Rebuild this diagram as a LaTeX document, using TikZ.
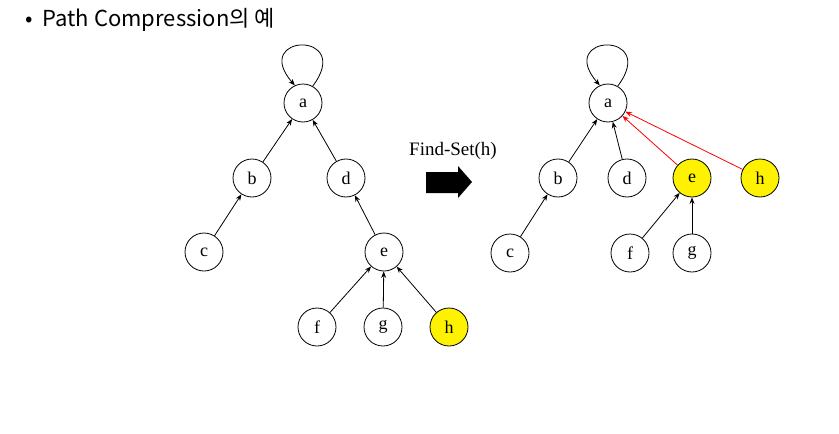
\documentclass[tikz,border=0pt]{standalone}
\usepackage{fontspec}
\setmainfont{Liberation Serif}
\newfontfamily\krfont{Noto Sans CJK KR}
\usetikzlibrary{arrows.meta}
\tikzset{
  vtx/.style={circle, draw=black, line width=0.8pt, minimum size=38pt, inner sep=0pt, fill=white, font=\fontsize{18}{18}\selectfont},
  hot/.style={vtx, fill=yellow},
  link/.style={line width=0.8pt, -{Stealth[length=6.5pt,width=5pt]}},
  redlink/.style={link, draw=red, -{Stealth[length=6.5pt,width=5pt,fill=red]}},
  selfloop/.style={link},
}
\begin{document}
\begin{tikzpicture}[x=1pt,y=-1pt]
\useasboundingbox (0,0) rectangle (839,434);

% heading
\node[anchor=west, font=\krfont\fontsize{22}{22}\selectfont, inner sep=0pt] (title) at (25,20) {•\hspace{10pt}Path Compression의 예};

% tree before Find-Set
\node[vtx] (a) at (303,103) {a};
\node[vtx] (b) at (252,178) {b};
\node[vtx] (d) at (346,178) {d};
\node[vtx] (c) at (204,252) {c};
\node[vtx] (e) at (384,252) {e};
\node[vtx] (f) at (317,327) {f};
\node[vtx] (g) at (383,327) {g};
\node[hot] (h) at (449,327) {h};

\draw[selfloop] (a.60) .. controls +(42,-56) and +(-45,-52) .. (a.115);
\draw[link] (b) -- (a);
\draw[link] (d) -- (a);
\draw[link] (c) -- (b);
\draw[link] (e) -- (d);
\draw[link] (f) -- (e);
\draw[link] (g) -- (e);
\draw[link] (h) -- (e);

% operation label and block arrow
\node[font=\fontsize{19}{19}\selectfont] (op) at (453,151) {Find-Set(h)};
\fill[black] (426,172) -- (458,172) -- (458,166) -- (472,182) -- (458,198) -- (458,193) -- (426,193) -- cycle;

% tree after Find-Set
\node[vtx] (a2) at (608,103) {a};
\node[vtx] (b2) at (558,178) {b};
\node[vtx] (d2) at (627,178) {d};
\node[hot] (e2) at (692,178) {e};
\node[hot] (h2) at (760,178) {h};
\node[vtx] (c2) at (510,253) {c};
\node[vtx] (f2) at (630,253) {f};
\node[vtx] (g2) at (692,253) {g};

\draw[selfloop] (a2.60) .. controls +(42,-56) and +(-45,-52) .. (a2.115);
\draw[link] (b2) -- (a2);
\draw[link] (d2) -- (a2);
\draw[link] (c2) -- (b2);
\draw[link] (f2) -- (e2);
\draw[link] (g2) -- (e2);
\draw[redlink] (e2) -- (a2);
\draw[redlink] (h2) -- (a2);
\end{tikzpicture}
\end{document}
